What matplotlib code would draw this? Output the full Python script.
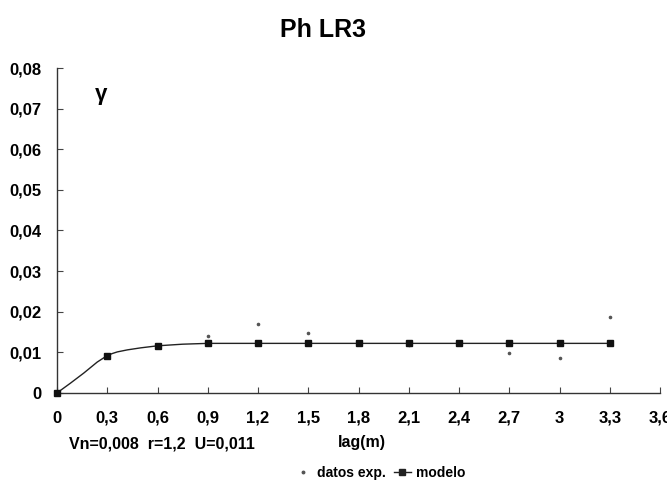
import matplotlib.pyplot as plt
from matplotlib.lines import Line2D

plt.rcParams['font.family'] = ['Liberation Sans', 'DejaVu Sans']

# semivariograma experimental
lag_exp = [0, 0.3, 0.6, 0.9, 1.2, 1.5, 1.8, 2.1, 2.4, 2.7, 3.0, 3.3]
gamma_exp = [0, 0.0090, 0.0115, 0.0140, 0.0170, 0.0148, 0.0121, 0.0119, 0.0121, 0.0098, 0.0087, 0.0188]

# modelo ajustado (curva y puntos marcados)
lag_curve = [0, 0.08, 0.16, 0.24, 0.3, 0.33, 0.36, 0.42, 0.5, 0.6, 0.75, 0.9, 1.2, 1.5, 1.8, 2.1, 2.4,
             2.7, 3.0, 3.3]
gamma_curve = [0, 0.0024, 0.0049, 0.0076, 0.0092, 0.0097, 0.0101, 0.0106, 0.0111, 0.0116, 0.0120, 0.0122,
               0.0122, 0.0122, 0.0122, 0.0122, 0.0122, 0.0122, 0.0122, 0.0122]
lag_mod = [0, 0.3, 0.6, 0.9, 1.2, 1.5, 1.8, 2.1, 2.4, 2.7, 3.0, 3.3]
gamma_mod = [0, 0.0092, 0.0116, 0.0122, 0.0122, 0.0122, 0.0122, 0.0122, 0.0122, 0.0122, 0.0122, 0.0122]

xticks = [0, 0.3, 0.6, 0.9, 1.2, 1.5, 1.8, 2.1, 2.4, 2.7, 3.0, 3.3, 3.6]
xlabels = ['0', '0,3', '0,6', '0,9', '1,2', '1,5', '1,8', '2,1', '2,4', '2,7', '3', '3,3', '3,6']
yticks = [0, 0.01, 0.02, 0.03, 0.04, 0.05, 0.06, 0.07, 0.08]
ylabels = ['0', '0,01', '0,02', '0,03', '0,04', '0,05', '0,06', '0,07', '0,08']

fig = plt.figure(figsize=(6.67, 4.93), dpi=100)
ax = fig.add_axes([0.0855, 0.203, 0.904, 0.659])

ax.plot(lag_exp, gamma_exp, linestyle='none', marker='o', markersize=1.6, color='#555555', zorder=2)
ax.plot(lag_curve, gamma_curve, color='#222222', linewidth=1.0, zorder=3)
ax.plot(lag_mod, gamma_mod, linestyle='none', marker='s', markersize=5, color='#111111', zorder=4,
        clip_on=False)

ax.set_xlim(0, 3.6)
ax.set_ylim(0, 0.08)
ax.set_xticks(xticks)
ax.set_xticklabels(xlabels, fontsize=12, fontweight='bold')
ax.set_yticks(yticks)
ax.set_yticklabels(ylabels, fontsize=12, fontweight='bold')
ax.tick_params(direction='in', length=4, width=0.8, color='#444444')
ax.tick_params(axis='x', pad=13)
ax.tick_params(axis='y', pad=11)
for s in ['top', 'right']:
    ax.spines[s].set_visible(False)
for s in ['left', 'bottom']:
    ax.spines[s].set_color('#333333')
    ax.spines[s].set_linewidth(1.0)

ax.text(0.26, 0.0735, '\u03b3', fontsize=16, fontweight='bold', ha='center', va='center')

fig.text(0.485, 0.94, 'Ph LR3', fontsize=18, fontweight='bold', ha='center', va='center')
fig.text(0.104, 0.099, 'Vn=0,008  r=1,2  U=0,011', fontsize=11.5, fontweight='bold', va='center')
fig.text(0.542, 0.102, 'lag(m)', fontsize=11.5, fontweight='bold', ha='center', va='center')

handles = [
    Line2D([], [], linestyle='none', marker='o', markersize=1.8, color='#555555'),
    Line2D([], [], color='#222222', linewidth=1.0, marker='s', markersize=4),
]
fig.legend(handles, ['datos exp.', 'modelo'], loc='center', bbox_to_anchor=(0.57, 0.04), ncol=2,
           frameon=False, handlelength=1.2, handletextpad=0.4, columnspacing=0.6,
           prop={'weight': 'bold', 'size': 10})

fig.savefig('out.png', dpi=100)
